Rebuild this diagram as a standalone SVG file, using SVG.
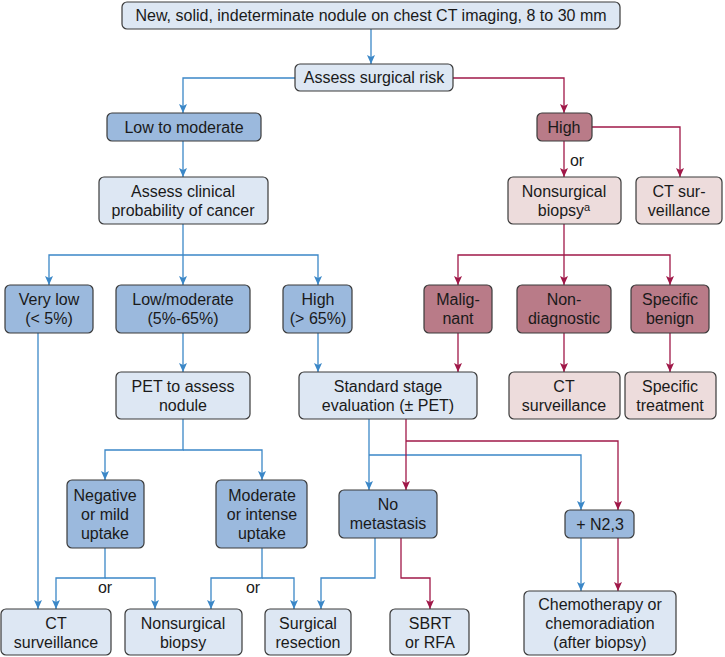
<svg xmlns="http://www.w3.org/2000/svg" width="725" height="657" viewBox="0 0 725 657">
<defs>
<style>
.n rect{stroke:#3a3a3a;stroke-width:1.2}
.lb rect{fill:#dde7f3}
.mb rect{fill:#9bb9dd}
.dp rect{fill:#b97b88}
.lp rect{fill:#eddcdc}
text{font-family:"Liberation Sans",Arial,sans-serif;font-size:16px;fill:#1a1a1a;text-anchor:middle}
.b{fill:none;stroke:#3b87c7;stroke-width:1.3}
.r{fill:none;stroke:#a01848;stroke-width:1.3}
</style>
<marker id="ab" markerWidth="8" markerHeight="9" refX="4" refY="9" orient="0" markerUnits="userSpaceOnUse"><path d="M0,0 L4,2 L8,0 L4,9 z" fill="#3b87c7"/></marker>
<marker id="ar" markerWidth="8" markerHeight="9" refX="4" refY="9" orient="0" markerUnits="userSpaceOnUse"><path d="M0,0 L4,2 L8,0 L4,9 z" fill="#a01848"/></marker>
</defs>
<rect width="725" height="657" fill="#ffffff"/>
<g id="connectors">
<g class="b">
<path d="M371,29 V64" marker-end="url(#ab)"/>
<path d="M295,78 H183 V113" marker-end="url(#ab)"/>
<path d="M183,141 V177" marker-end="url(#ab)"/>
<path d="M183,224 V285" marker-end="url(#ab)"/>
<path d="M183,255 H49 V285" marker-end="url(#ab)"/>
<path d="M183,255 H318 V285" marker-end="url(#ab)"/>
<path d="M38,333 V609" marker-end="url(#ab)"/>
<path d="M183,333 V372" marker-end="url(#ab)"/>
<path d="M318,333 V372" marker-end="url(#ab)"/>
<path d="M183,419 V450 H105 V480" marker-end="url(#ab)"/>
<path d="M183,450 H262 V480" marker-end="url(#ab)"/>
<path d="M105,548 V578 H56 V609" marker-end="url(#ab)"/>
<path d="M105,578 H155 V609" marker-end="url(#ab)"/>
<path d="M262,548 V578 H211 V609" marker-end="url(#ab)"/>
<path d="M262,578 H294 V609" marker-end="url(#ab)"/>
<path d="M369,419 V490" marker-end="url(#ab)"/>
<path d="M369,455 H581 V510" marker-end="url(#ab)"/>
<path d="M375,538 V578 H321 V609" marker-end="url(#ab)"/>
<path d="M581,538 V591" marker-end="url(#ab)"/>
</g>
<g class="r">
<path d="M453,78 H564 V113" marker-end="url(#ar)"/>
<path d="M592,127 H680 V177" marker-end="url(#ar)"/>
<path d="M564,141 V177" marker-end="url(#ar)"/>
<path d="M564,224 V285" marker-end="url(#ar)"/>
<path d="M564,255 H458 V285" marker-end="url(#ar)"/>
<path d="M564,255 H670 V285" marker-end="url(#ar)"/>
<path d="M458,333 V372" marker-end="url(#ar)"/>
<path d="M564,333 V372" marker-end="url(#ar)"/>
<path d="M670,333 V372" marker-end="url(#ar)"/>
<path d="M406,419 V490" marker-end="url(#ar)"/>
<path d="M406,441 H618 V510" marker-end="url(#ar)"/>
<path d="M401,538 V578 H430 V609" marker-end="url(#ar)"/>
<path d="M618,538 V591" marker-end="url(#ar)"/>
</g>
<text x="577" y="166">or</text>
<text x="105" y="593">or</text>
<text x="253" y="593">or</text>
</g>
<g id="top" class="n lb"><rect x="122" y="2" width="498" height="27" rx="5"/><text x="371" y="21">New, solid, indeterminate nodule on chest CT imaging, 8 to 30 mm</text></g>
<g id="surgrisk" class="n lb"><rect x="295" y="64" width="158" height="27" rx="5"/><text x="374" y="83">Assess surgical risk</text></g>
<g id="lowmod" class="n mb"><rect x="107" y="113" width="154" height="28" rx="5"/><text x="184" y="133">Low to moderate</text></g>
<g id="highrisk" class="n dp"><rect x="537" y="113" width="55" height="28" rx="5"/><text x="564" y="133">High</text></g>
<g id="clinprob" class="n lb"><rect x="99" y="177" width="169" height="47" rx="5"/><text x="183" y="197">Assess clinical</text><text x="183" y="216">probability of cancer</text></g>
<g id="nsbiopsy1" class="n lp"><rect x="508" y="177" width="113" height="47" rx="5"/><text x="564" y="197">Nonsurgical</text><text x="564" y="216">biopsy<tspan font-size="11" dy="-5">a</tspan></text></g>
<g id="ctsur1" class="n lp"><rect x="636" y="177" width="86" height="47" rx="5"/><text x="679" y="197">CT sur-</text><text x="679" y="216">veillance</text></g>
<g id="verylow" class="n mb"><rect x="5" y="285" width="88" height="48" rx="5"/><text x="49" y="305">Very low</text><text x="49" y="324">(&lt; 5%)</text></g>
<g id="lowmodprob" class="n mb"><rect x="116" y="285" width="134" height="48" rx="5"/><text x="183" y="305">Low/moderate</text><text x="183" y="324">(5%-65%)</text></g>
<g id="highprob" class="n mb"><rect x="283" y="285" width="69" height="48" rx="5"/><text x="318" y="305">High</text><text x="318" y="324">(&gt; 65%)</text></g>
<g id="malignant" class="n dp"><rect x="424" y="285" width="68" height="48" rx="5"/><text x="458" y="305">Malig-</text><text x="458" y="324">nant</text></g>
<g id="nondiag" class="n dp"><rect x="517" y="285" width="94" height="48" rx="5"/><text x="564" y="305">Non-</text><text x="564" y="324">diagnostic</text></g>
<g id="specben" class="n dp"><rect x="631" y="285" width="78" height="48" rx="5"/><text x="670" y="305">Specific</text><text x="670" y="324">benign</text></g>
<g id="pet" class="n lb"><rect x="116" y="372" width="134" height="47" rx="5"/><text x="183" y="392">PET to assess</text><text x="183" y="411">nodule</text></g>
<g id="stage" class="n lb"><rect x="299" y="372" width="178" height="47" rx="5"/><text x="388" y="392">Standard stage</text><text x="388" y="411">evaluation (± PET)</text></g>
<g id="ctsur2" class="n lp"><rect x="509" y="372" width="111" height="47" rx="5"/><text x="564" y="392">CT</text><text x="564" y="411">surveillance</text></g>
<g id="spectreat" class="n lp"><rect x="625" y="372" width="91" height="47" rx="5"/><text x="670" y="392">Specific</text><text x="670" y="411">treatment</text></g>
<g id="negmild" class="n mb"><rect x="67" y="480" width="77" height="68" rx="5"/><text x="105" y="501">Negative</text><text x="105" y="520">or mild</text><text x="105" y="539">uptake</text></g>
<g id="modint" class="n mb"><rect x="216" y="480" width="91" height="68" rx="5"/><text x="262" y="501">Moderate</text><text x="262" y="520">or intense</text><text x="262" y="539">uptake</text></g>
<g id="nomet" class="n mb"><rect x="339" y="490" width="98" height="48" rx="5"/><text x="388" y="510">No</text><text x="388" y="529">metastasis</text></g>
<g id="n23" class="n mb"><rect x="565" y="510" width="69" height="28" rx="5"/><text x="600" y="530">+ N2,3</text></g>
<g id="ctsur3" class="n lb"><rect x="1" y="609" width="110" height="46" rx="5"/><text x="56" y="629">CT</text><text x="56" y="648">surveillance</text></g>
<g id="nsbiopsy2" class="n lb"><rect x="125" y="609" width="117" height="46" rx="5"/><text x="183" y="629">Nonsurgical</text><text x="183" y="648">biopsy</text></g>
<g id="surgres" class="n lb"><rect x="265" y="609" width="86" height="46" rx="5"/><text x="308" y="629">Surgical</text><text x="308" y="648">resection</text></g>
<g id="sbrt" class="n lb"><rect x="390" y="609" width="79" height="46" rx="5"/><text x="430" y="629">SBRT</text><text x="430" y="648">or RFA</text></g>
<g id="chemo" class="n lb"><rect x="524" y="591" width="152" height="64" rx="5"/><text x="600" y="610">Chemotherapy or</text><text x="600" y="629">chemoradiation</text><text x="600" y="648">(after biopsy)</text></g>
</svg>
